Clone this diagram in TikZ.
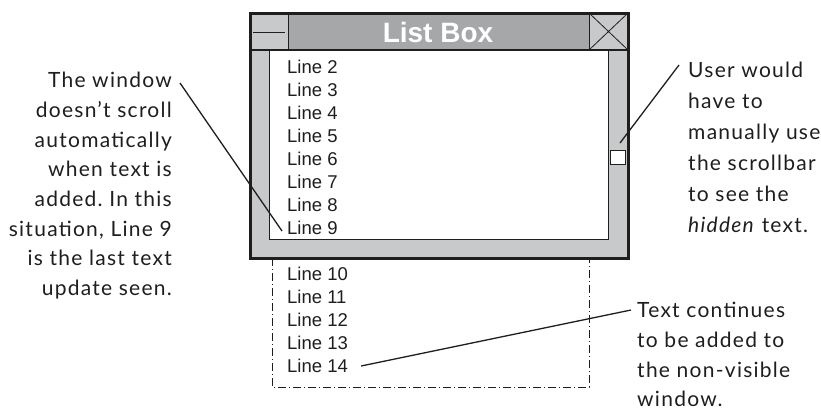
\documentclass[tikz,border=0pt]{standalone}
\usepackage{fontspec}
\setmainfont{Liberation Sans}
\newfontfamily\notefont[LetterSpace=6]{Lato}
\usepackage{xcolor}
\usetikzlibrary{positioning}
\definecolor{framegray}{RGB}{200,201,203}
\definecolor{titlegray}{RGB}{166,167,169}
\definecolor{inkdark}{RGB}{30,30,30}
\tikzset{
  listline/.style={
    anchor=west,
    inner sep=0pt,
    font=\fontsize{18.5}{23}\selectfont,
    text=inkdark
  },
  note/.style={
    inner sep=0pt,
    font=\notefont\frenchspacing\fontsize{21}{29.7}\selectfont,
    text=inkdark
  },
  titletext/.style={
    inner sep=0pt,
    text=white,
    font=\bfseries\fontsize{28}{28}\selectfont
  },
  hiddenarea/.style={
    draw=inkdark,
    line width=0.9pt,
    dash pattern=on 8pt off 3pt on 1pt off 3pt
  },
  every edge/.style={draw=inkdark, line width=1.3pt}
}

\begin{document}
\begin{tikzpicture}[x=1pt,y=-1pt]
  \useasboundingbox (0,0) rectangle (821,410);

  % hidden part of the list below the window
  \draw[hiddenarea] (272,258) -- (272,387) -- (589,387) -- (589,258);

  % window body
  \fill[framegray] (250,13) rectangle (628,258);
  \fill[titlegray] (288,13) rectangle (589,50);
  \draw[inkdark, line width=1pt, fill=white] (269,50) rectangle (608,239);
  \draw[inkdark, line width=1.2pt] (250,50) -- (628,50);
  \draw[inkdark, line width=1pt] (288,13) -- (288,50) (589,13) -- (589,50);
  \draw[inkdark, line width=0.8pt] (253,32) -- (285,32);
  \draw[inkdark, line width=0.8pt] (589,13) -- (628,50) (628,13) -- (589,50);
  \draw[inkdark, line width=1pt, fill=white] (610,150) rectangle (625,164);
  \draw[inkdark, line width=3pt] (250,13) rectangle (628,258);
  \coordinate (thumbtop) at (620,143);

  \node[titletext] (title) at (438,32) {List Box};

  % list entries
  \foreach \n in {2,...,9}
    \node[listline] (l\n) at (287,{67+(\n-2)*23}) {Line \n};
  \foreach \n in {10,...,14}
    \node[listline] (l\n) at (287,{67+(\n-1)*23}) {Line \n};

  % notes
  \node[note, align=right, anchor=north east] (leftnote) at (172,72) {The window\\doesn’t scroll\\automatically\\when text is\\added. In this\\situation, Line 9\\is the last text\\update seen.};
  \node[note, align=left, anchor=north west, font=\notefont\fontsize{21}{31}\selectfont] (rightnote) at (688,62) {User would\\have to\\manually use\\the scrollbar\\to see the\\\textit{hidden} text.};
  \node[note, align=left, anchor=north west] (bottomnote) at (637,302) {Text continues\\to be added to\\the non-visible\\window.};

  \coordinate (leftstart) at (180,83);
  \coordinate (rightstart) at (679,65);
  \coordinate (bottomstart) at (631,310);

  \path (leftstart) edge ([xshift=-5pt,yshift=-3pt]l9.west)
        (rightstart) edge (thumbtop)
        (bottomstart) edge ([xshift=13pt]l14.east);
\end{tikzpicture}
\end{document}
